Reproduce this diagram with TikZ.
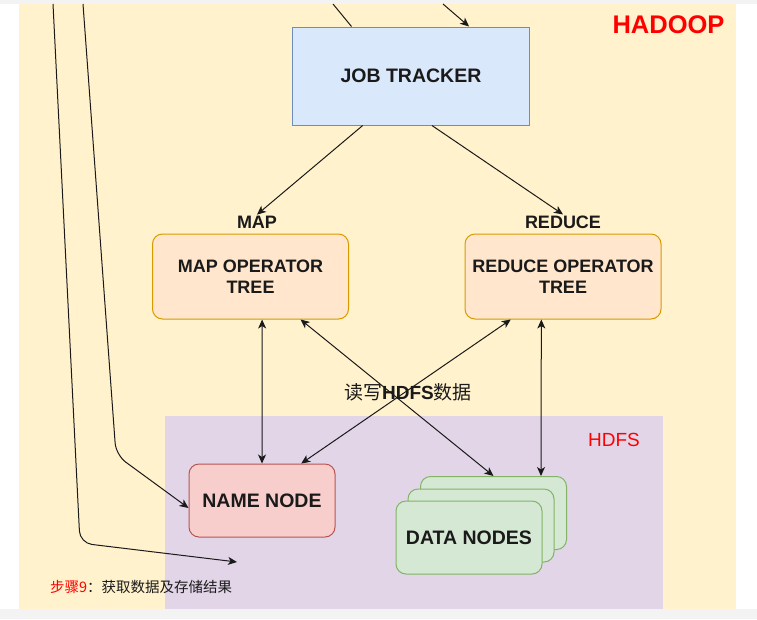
\documentclass[tikz,border=0pt]{standalone}
\usepackage{fontspec}
\setmainfont{Liberation Sans}
\newfontfamily\cjk{Noto Sans CJK SC}
\usetikzlibrary{arrows.meta,calc}
\definecolor{bgyellow}{HTML}{FFF2CC}
\definecolor{bgpurple}{HTML}{E1D5E7}
\definecolor{frame}{HTML}{F3F3F3}
\definecolor{jtfill}{HTML}{DAE8FC}
\definecolor{jtdraw}{HTML}{6C8EBF}
\definecolor{opfill}{HTML}{FFE6CC}
\definecolor{opdraw}{HTML}{D79B00}
\definecolor{nnfill}{HTML}{F8CECC}
\definecolor{nndraw}{HTML}{B85450}
\definecolor{dnfill}{HTML}{D5E8D4}
\definecolor{dndraw}{HTML}{82B366}
\definecolor{txt}{HTML}{1A1A1A}
\tikzset{
  boxtext/.style={font=\fontsize{18}{21}\selectfont\bfseries, text=txt, align=center},
  bigtext/.style={font=\fontsize{19.5}{22}\selectfont\bfseries},
  jtbox/.style={boxtext, bigtext, rectangle, draw=jtdraw, fill=jtfill, line width=1pt, minimum width=237pt, minimum height=98pt},
  opbox/.style={boxtext, rectangle, rounded corners=10pt, draw=opdraw, fill=opfill, line width=1pt, minimum width=196pt, minimum height=85pt},
  nnbox/.style={boxtext, bigtext, rectangle, rounded corners=10pt, draw=nndraw, fill=nnfill, line width=1pt, minimum width=146pt, minimum height=73pt},
  dnbox/.style={boxtext, bigtext, rectangle, rounded corners=10pt, draw=dndraw, fill=dnfill, line width=1pt, minimum width=146pt, minimum height=73pt},
  lbl/.style={font=\fontsize{18}{21}\selectfont\bfseries, text=txt, inner sep=1pt},
  conn/.style={draw=txt, line width=1pt, -{Stealth[length=9pt,width=8pt,inset=2.5pt]}},
  biconn/.style={draw=txt, line width=1pt, {Stealth[length=9pt,width=8pt,inset=2.5pt]}-{Stealth[length=9pt,width=8pt,inset=2.5pt]}},
  plain/.style={draw=txt, line width=1pt}
}
\begin{document}
\begin{tikzpicture}[x=1pt,y=-1pt]
\useasboundingbox (0,0) rectangle (757,619);
% backgrounds
\fill[white] (0,0) rectangle (757,619);
\fill[bgyellow] (19,4) rectangle (736,609);
\fill[bgpurple] (165,416) rectangle (663,609);
\fill[frame] (0,0) rectangle (757,4);
\fill[frame] (0,609) rectangle (757,619);

% titles
\node[font=\fontsize{25.5}{28}\selectfont\bfseries, text=red] (hadoop) at (668.5,25) {HADOOP};
\node[font=\fontsize{19}{21}\selectfont, text=red] (hdfs) at (614,440) {HDFS};

% nodes
\node[jtbox] (jt) at (411,76) {JOB TRACKER};
\node[opbox] (mapt) at (250.5,276.5) {MAP OPERATOR\\TREE};
\node[opbox] (redt) at (563,276.5) {REDUCE OPERATOR\\TREE};
\node[lbl] (maplbl) at (257,222) {MAP};
\node[lbl] (redlbl) at (563,222) {REDUCE};
\node[nnbox] (nn) at (262,500.5) {NAME NODE};
\node[dnbox] (dnback) at (493.5,513) {};
\node[dnbox] (dnmid) at (481,525.5) {};
\node[dnbox] (dnfront) at (469,537.5) {DATA NODES};

\node[font=\fontsize{19}{21}\selectfont, text=txt, inner sep=0pt] (rw) at (408,392) {{\cjk 读写}\textbf{HDFS}{\cjk 数据}};
\node[font=\cjk\fontsize{14.5}{16}\selectfont, text=txt, anchor=west, inner sep=0pt] (step) at (50,587) {\textcolor{red}{步骤9}：获取数据及存储结果};

% free ends
\coordinate (topA) at (333,4);
\coordinate (topB) at (443,4);
\coordinate (leftA) at (53,4);
\coordinate (leftB) at (83,4);
\coordinate (endA) at (237,562);

% connectors
\draw[plain] ($(jt.north west)!0.25!(jt.north east)$) -- (topA);
\draw[conn] (topB) -- ($(jt.north west)!0.744!(jt.north east)$);
\draw[conn] ($(jt.south west)!0.297!(jt.south east)$) -- (maplbl.north);
\draw[conn] ($(jt.south west)!0.588!(jt.south east)$) -- (redlbl.north);

\draw[conn, rounded corners=12pt] (leftA) -- (80,543) -- (endA);
\draw[conn, rounded corners=12pt] (leftB) -- (116,455) -- ($(nn.west)+(0,7.5)$);

\draw[biconn] ($(mapt.south west)!0.559!(mapt.south east)$) -- (nn.north);
\draw[biconn] ($(mapt.south west)!0.754!(mapt.south east)$) -- (dnback.north);
\draw[biconn] ($(redt.south west)!0.235!(redt.south east)$) -- ($(nn.north west)!0.767!(nn.north east)$);
\draw[biconn] ($(redt.south west)!0.39!(redt.south east)$) -- ($(dnback.north west)!0.823!(dnback.north east)$);
\end{tikzpicture}
\end{document}
